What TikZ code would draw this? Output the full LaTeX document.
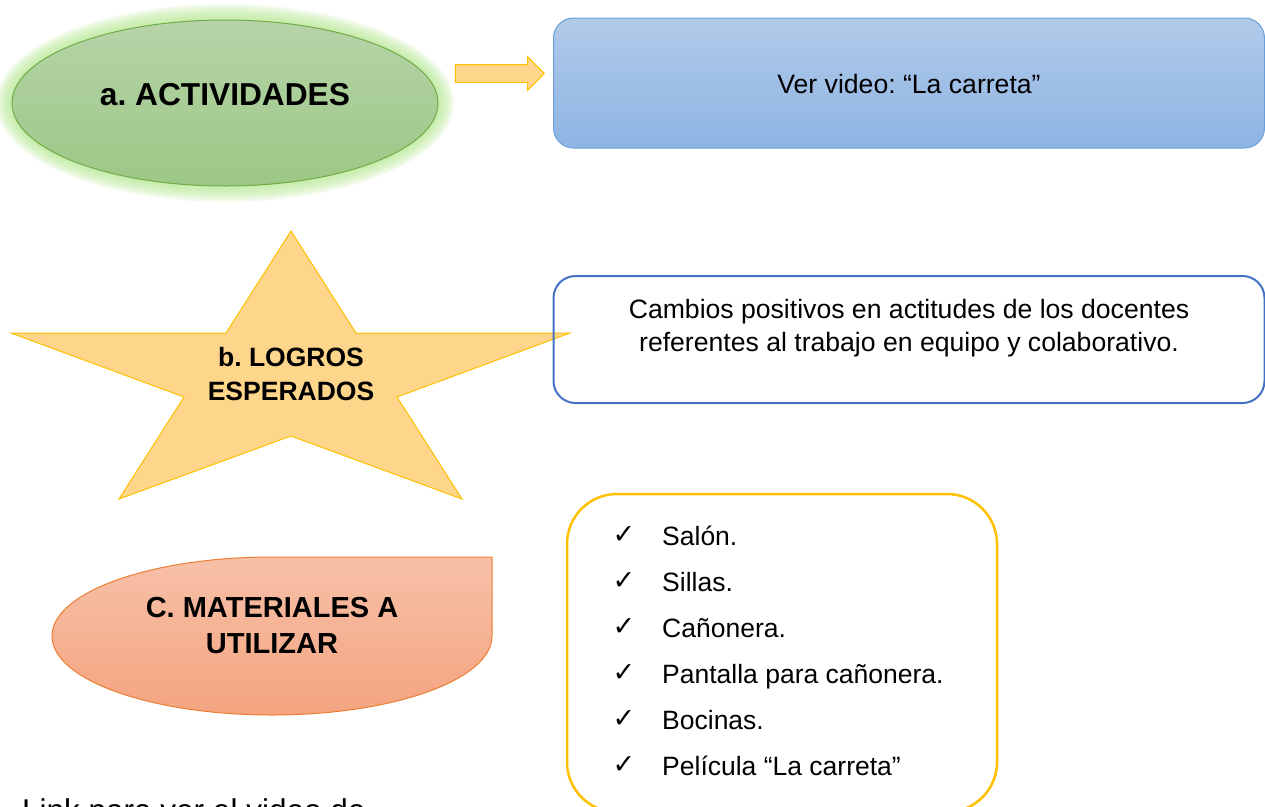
\documentclass[tikz,border=0pt]{standalone}
\usepackage{fontspec}
\setmainfont{Liberation Sans}
\newfontfamily\symbfont{DejaVu Sans}
\usepackage{tikz}
\usetikzlibrary{positioning,shapes,shapes.arrows,arrows.meta,calc}
\frenchspacing

\definecolor{glowgreen}{HTML}{B4E690}
\definecolor{actborder}{HTML}{70AD47}
\definecolor{acttop}{HTML}{B6D4A8}
\definecolor{actbottom}{HTML}{9CC785}
\definecolor{goldline}{HTML}{FFC000}
\definecolor{goldfill}{HTML}{FED68B}
\definecolor{vidtop}{HTML}{B1CAE9}
\definecolor{vidbottom}{HTML}{8EB4E3}
\definecolor{vidborder}{HTML}{6A9FD8}
\definecolor{logborder}{HTML}{4472C4}
\definecolor{mattop}{HTML}{F7C0A8}
\definecolor{matbottom}{HTML}{F4A47F}
\definecolor{matborder}{HTML}{ED7D31}

\tikzset{
  titletext/.style={font=\bfseries\fontsize{26.5}{34}\selectfont, align=center, inner sep=0pt},
  bodytext/.style={font=\fontsize{26.6}{32.5}\selectfont, align=center, inner sep=0pt},
  listtext/.style={font=\fontsize{26.5}{32}\selectfont, anchor=base west, inner sep=0pt},
  roundbox/.style={rectangle, rounded corners=20pt, outer sep=0pt, inner sep=0pt},
}

\begin{document}
\begin{tikzpicture}[x=1pt,y=1pt]
    \useasboundingbox (0,0) rectangle (1265,-806);
    % a. actividades
    \coordinate (actc) at (225,-103);
    \foreach \g in {2,4,...,16}{\fill[glowgreen, opacity=0.15] (actc) ellipse [x radius=213+\g, y radius=83+\g];}
    \node[ellipse, minimum width=426pt, minimum height=166pt, inner sep=0pt, outer sep=0pt,
          top color=acttop, bottom color=actbottom, draw=actborder, line width=1pt] (act) at (actc) {};
    \node[titletext, font=\bfseries\fontsize{31.7}{38}\selectfont] (acttext) at ($(act.center)+(0,8)$) {a. ACTIVIDADES};
    \node[single arrow, draw=goldline, fill=goldfill, line width=1pt, inner sep=0pt, inner ysep=8.3pt,
          minimum height=89pt, single arrow head extend=8pt, outer sep=0pt] (go) at (495.5,-73.5) {};
    \node[roundbox, minimum width=711pt, minimum height=130pt, top color=vidtop, bottom color=vidbottom,
          draw=vidborder, line width=1pt] (video) at (909,-83) {};
    \node[bodytext] (videotext) at (909,-84) {Ver video: “La carreta”};
    % b. logros
    \draw[draw=goldline, fill=goldfill, line width=1pt, line join=miter]
        (291,-231) -- (356,-333) -- (570,-333) -- (397,-397) -- (462,-499) -- (291,-436)
        -- (119,-499) -- (184,-397) -- (11,-333) -- (226,-333) -- cycle;
    \node[titletext] (logros) at (291,-374) {b. LOGROS\\ESPERADOS};
    \node[roundbox, rounded corners=22pt, minimum width=711pt, minimum height=127pt,
          draw=logborder, line width=2pt] (cambios) at (909,-339.5) {};
    \node[bodytext] (cambiostext) at (909,-328) {Cambios positivos en actitudes de los docentes\\referentes al trabajo en equipo y colaborativo.};
    % c. materiales
    \draw[top color=mattop, bottom color=matbottom, draw=matborder, line width=1pt]
        (492,-636) -- (492,-557) -- (272,-557) arc[start angle=90, end angle=360, x radius=220, y radius=79] -- cycle;
    \node[titletext, font=\bfseries\fontsize{29}{36}\selectfont] (mat) at (272,-626) {C. MATERIALES A\\UTILIZAR};
    \node[roundbox, rounded corners=50pt, minimum width=430pt, minimum height=318pt,
          draw=goldline, line width=2.5pt] (lista) at (782,-653) {};
    \foreach \i/\name in {0/Salón., 1/Sillas., 2/Cañonera., 3/Pantalla para cañonera., 4/Bocinas., 5/Película “La carreta”}{
        \node[font=\symbfont\fontsize{27}{27}\selectfont, anchor=base, inner sep=0pt] (chk\i) at (624,-543-46*\i) {✓};
        \node[listtext] (item\i) at (662,-545-46*\i) {\name};
    }
    \node[anchor=base west, inner sep=0pt, font=\fontsize{31.5}{38}\selectfont] (link) at (22,-821) {Link para ver el video de};
\end{tikzpicture}
\end{document}
